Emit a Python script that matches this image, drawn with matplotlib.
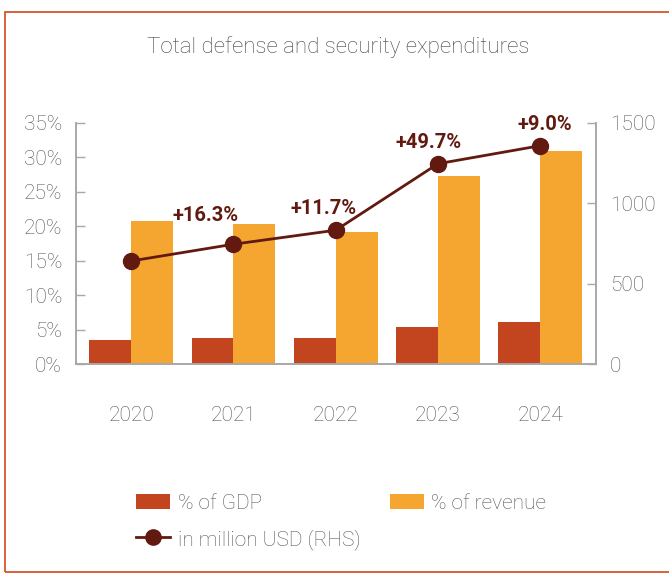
import matplotlib
matplotlib.use('Agg')
import matplotlib.pyplot as plt
from matplotlib.lines import Line2D
from matplotlib.patches import Patch, Rectangle

plt.rcParams['font.family'] = ['Roboto', 'DejaVu Sans']

years = ['2020', '2021', '2022', '2023', '2024']
pct_gdp = [3.5, 3.8, 3.8, 5.4, 6.1]
pct_revenue = [20.7, 20.3, 19.1, 27.2, 30.9]
usd_million = [640, 744, 831, 1244, 1356]
growth_labels = ['', '+16.3%', '+11.7%', '+49.7%', '+9.0%']

GDP_COLOR = '#C2451F'
REV_COLOR = '#F5A630'
LINE_COLOR = '#621A10'
AXIS_COLOR = '#A8A8A8'
TEXT_COLOR = '#555555'
FRAME_COLOR = '#D8552C'
TICK_SIZE = 15

fig = plt.figure(figsize=(6.69, 5.73), dpi=100)
ax = fig.add_axes([76 / 669, 1 - 364 / 573, 520 / 669, 241.5 / 573])
ax2 = ax.twinx()

x = list(range(len(years)))
width = 0.41
ax.bar([i - width / 2 for i in x], pct_gdp, width=width, color=GDP_COLOR, zorder=2)
ax.bar([i + width / 2 for i in x], pct_revenue, width=width, color=REV_COLOR, zorder=2)

ax2.plot(x, usd_million, color=LINE_COLOR, linewidth=2.0, marker='o',
         markersize=11.5, zorder=3)

# label offsets in points, relative to each marker
offsets = [(0, 0), (-20, 21), (-8.5, 15.5), (-7, 15.5), (3, 15.5)]
for i, label in enumerate(growth_labels):
    if not label:
        continue
    ax2.annotate(label, xy=(i, usd_million[i]), xytext=offsets[i],
                 textcoords='offset points', ha='center', va='center',
                 fontsize=14.5, fontweight='bold', color=LINE_COLOR)

ax.set_xlim(-0.54, 4.545)
ax.set_ylim(0, 35)
ax2.set_ylim(0, 1500)

ax.set_xticks(x)
ax.set_xticklabels(years)
ax.set_yticks(range(0, 36, 5))
ax.set_yticklabels([f'{v}%' for v in range(0, 36, 5)])
ax2.set_yticks(range(0, 1501, 500))

for a in (ax, ax2):
    a.spines['top'].set_visible(False)
    for side in ('left', 'right', 'bottom'):
        a.spines[side].set_color(AXIS_COLOR)
        a.spines[side].set_linewidth(1.2)
    a.tick_params(axis='y', direction='in', length=6.5, width=1.0,
                  color=AXIS_COLOR, labelcolor=TEXT_COLOR, labelsize=TICK_SIZE, pad=10)
    for lbl in a.get_yticklabels():
        lbl.set_fontweight('light')
ax.tick_params(axis='x', length=0, labelcolor=TEXT_COLOR, labelsize=TICK_SIZE, pad=30.5)
for lbl in ax.get_xticklabels():
    lbl.set_fontweight('light')

fig.text(338 / 669, 1 - 47 / 573, 'Total defense and security expenditures',
         ha='center', va='center', fontsize=16, fontweight='light', color='#444444')

handles = [
    Patch(facecolor=GDP_COLOR, edgecolor='none', label='% of GDP'),
    Line2D([0], [0], color=LINE_COLOR, linewidth=2.0, marker='o', markersize=11,
           label='in million USD (RHS)'),
    Patch(facecolor=REV_COLOR, edgecolor='none', label='% of revenue'),
]
leg = fig.legend(handles=handles, ncol=2, frameon=False, loc='upper left',
                 bbox_to_anchor=(136 / 669, 1 - 494 / 573), borderpad=0,
                 borderaxespad=0, handlelength=1.63, handleheight=0.75,
                 handletextpad=0.38, columnspacing=1.39, labelspacing=0.75,
                 prop={'size': TICK_SIZE, 'weight': 'light'})
for t in leg.get_texts():
    t.set_color(TEXT_COLOR)

# frame around the panel: left, top and bottom edges
fig.patches.append(Rectangle((5 / 669, 1 - 572 / 573), 700 / 669, 560 / 573,
                             transform=fig.transFigure, fill=False,
                             edgecolor=FRAME_COLOR, linewidth=1.3))

fig.savefig('out.png', dpi=100)
